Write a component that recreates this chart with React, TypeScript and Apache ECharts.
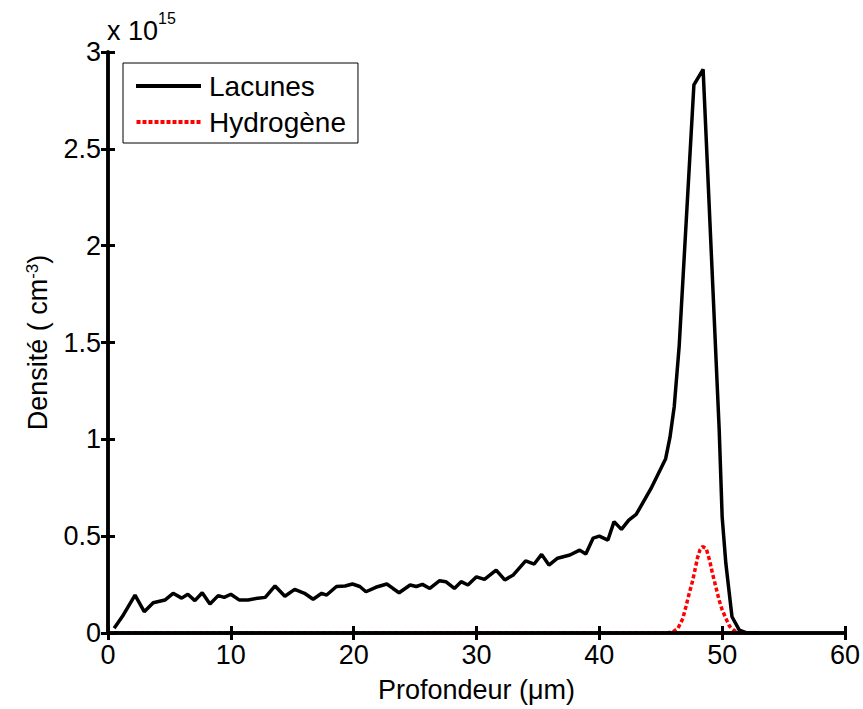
import React, { useEffect, useRef } from "react";
import * as echarts from "echarts";

// Vacancies (Lacunes) profile: depth in µm, density in units of 1e15 cm^-3
const depthLacunes = [
  0.5, 1.25, 2.2, 2.95, 3.68, 4.63, 5.3, 6.0, 6.5, 7.07, 7.67, 8.3, 8.97, 9.46, 10.0,
  10.7, 11.4, 12.2, 12.8, 13.6, 14.4, 15.2, 16.0, 16.7, 17.4, 17.8, 18.6, 19.3, 19.9,
  20.5, 21.0, 21.8, 22.7, 23.2, 23.7, 24.6, 25.1, 25.6, 26.2, 27.0, 27.5, 28.2, 28.75,
  29.3, 30.0, 30.65, 31.6, 32.3, 33.0, 34.0, 34.7, 35.3, 35.9, 36.6, 37.6, 38.4, 38.9,
  39.5, 40.0, 40.7, 41.2, 41.8, 42.4, 43.0, 44.2, 45.4, 45.75, 46.1, 46.5, 47.7, 48.45,
  49.76, 50.0, 50.3, 50.8, 51.4, 52.0, 53.0,
];
const lacunes = [
  0.024, 0.093, 0.196, 0.11, 0.156, 0.17, 0.205, 0.18, 0.2, 0.167, 0.208, 0.15, 0.193, 0.184, 0.2,
  0.17, 0.17, 0.18, 0.184, 0.243, 0.19, 0.225, 0.205, 0.174, 0.205, 0.196, 0.24, 0.243, 0.253,
  0.24, 0.213, 0.236, 0.253, 0.23, 0.208, 0.248, 0.24, 0.251, 0.23, 0.27, 0.265, 0.23, 0.265,
  0.248, 0.29, 0.277, 0.325, 0.274, 0.3, 0.372, 0.356, 0.406, 0.351, 0.386, 0.403, 0.428, 0.408,
  0.49, 0.5, 0.48, 0.575, 0.535, 0.583, 0.612, 0.745, 0.9, 1.01, 1.17, 1.48, 2.83, 2.91,
  1.048, 0.6, 0.36, 0.084, 0.015, 0, 0,
];

// Hydrogen profile
const depthHydrogene = [
  0.5, 10, 20, 30, 40, 45.5, 46.0, 46.4, 46.8, 47.05, 47.3, 47.6, 48.0, 48.2, 48.4, 48.7,
  49.0, 49.2, 49.5, 49.75, 50.0, 50.3, 50.6, 51.0, 51.5, 53.0,
];
const hydrogene = [
  0, 0, 0, 0, 0, 0, 0.006, 0.024, 0.075, 0.136, 0.2, 0.27, 0.39, 0.43, 0.446, 0.437,
  0.37, 0.31, 0.235, 0.17, 0.12, 0.076, 0.035, 0.012, 0, 0,
];

const seriesNames = ["Lacunes", "Hydrogène"];
const xTitle = "Profondeur (μm)";
const yTitle = "Densité ( cm{sup|-3})";

const FONT = "'Liberation Sans', Arial, Helvetica, sans-serif";

// legend icons: solid bar and dashed bar
const solidIcon = "path://M0 0H65V4H0Z";
function dashedIcon(): string {
  let d = "path://";
  for (let x = 0; x < 65; x += 6) {
    const w = Math.min(4, 65 - x);
    d += `M${x} 0H${x + w}V4H${x}Z `;
  }
  return d.trim();
}

export default function App() {
  const ref = useRef<HTMLDivElement>(null);

  useEffect(() => {
    document.body.style.margin = "0";
    if (!ref.current) return;
    const chart = echarts.init(ref.current, undefined, { renderer: "svg" });

    const lineAxis = {
      axisLine: { show: true, lineStyle: { color: "#000", width: 3.5 } },
      axisTick: { show: true, inside: true, length: 7, lineStyle: { color: "#000", width: 3 } },
      splitLine: { show: false },
      z: 5,
    };

    chart.setOption({
      animation: false,
      backgroundColor: "#fff",
      grid: { left: 108, right: 17, top: 52, bottom: 76 },
      legend: {
        data: [
          { name: seriesNames[0], icon: solidIcon, itemStyle: { color: "#000" } },
          { name: seriesNames[1], icon: dashedIcon(), itemStyle: { color: "#ff0000" } },
        ],
        orient: "vertical",
        left: 123,
        top: 63,
        itemWidth: 65,
        itemHeight: 4,
        itemGap: 8,
        padding: [9, 12, 7, 13],
        borderColor: "#000",
        borderWidth: 1,
        borderRadius: 0,
        backgroundColor: "#fff",
        textStyle: { fontSize: 28, color: "#000", fontFamily: FONT, lineHeight: 28, padding: [0, 0, 0, 3] },
        z: 10,
      },
      xAxis: [
        {
          type: "value",
          position: "bottom",
          min: 0,
          max: 60,
          interval: 10,
          ...lineAxis,
          axisLabel: { fontSize: 27, color: "#000", margin: 8, fontFamily: FONT },
          name: xTitle,
          nameLocation: "middle",
          nameGap: 43,
          nameTextStyle: { fontSize: 27, color: "#000", fontFamily: FONT },
        },
        {
          type: "value",
          position: "top",
          min: 0,
          max: 60,
          interval: 10,
          ...lineAxis,
          axisLabel: { show: false },
        },
      ],
      yAxis: [
        {
          type: "value",
          position: "left",
          min: 0,
          max: 3,
          interval: 0.5,
          ...lineAxis,
          axisLabel: { fontSize: 27, color: "#000", margin: 7, fontFamily: FONT },
          name: yTitle,
          nameLocation: "middle",
          nameGap: 57,
          nameTextStyle: {
            fontSize: 27,
            color: "#000",
            fontFamily: FONT,
            rich: {
              sup: { fontSize: 17, color: "#000", fontFamily: FONT, verticalAlign: "top", lineHeight: 17 },
            },
          },
        },
        {
          type: "value",
          position: "right",
          min: 0,
          max: 3,
          interval: 0.5,
          ...lineAxis,
          axisLabel: { show: false },
        },
      ],
      graphic: [
        {
          type: "text",
          x: 107,
          y: 31,
          style: { text: "x 10", font: `27px ${FONT}`, fill: "#000", verticalAlign: "middle", align: "left" },
        },
        {
          type: "text",
          x: 158,
          y: 18,
          style: { text: "15", font: `16px ${FONT}`, fill: "#000", verticalAlign: "middle", align: "left" },
        },
      ],
      series: [
        {
          name: seriesNames[0],
          type: "line",
          xAxisIndex: 0,
          yAxisIndex: 0,
          data: depthLacunes.map((x, i) => [x, lacunes[i]]),
          symbol: "none",
          lineStyle: { color: "#000", width: 3.5 },
          itemStyle: { color: "#000" },
          z: 2,
        },
        {
          name: seriesNames[1],
          type: "line",
          xAxisIndex: 0,
          yAxisIndex: 0,
          data: depthHydrogene.map((x, i) => [x, hydrogene[i]]),
          symbol: "none",
          lineStyle: { color: "#ff0000", width: 3.5, type: [4, 2.5] },
          itemStyle: { color: "#ff0000" },
          z: 3,
        },
      ],
    });

    return () => chart.dispose();
  }, []);

  return <div ref={ref} style={{ width: 863, height: 709 }} />;
}
